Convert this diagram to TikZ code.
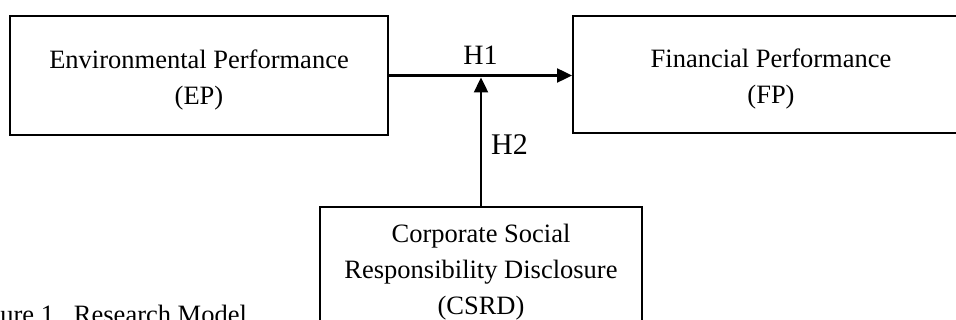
\documentclass[tikz,border=0pt]{standalone}
\usepackage{fontspec}
\setmainfont{Liberation Serif}
\usetikzlibrary{arrows.meta,positioning}

\begin{document}
\begin{tikzpicture}[x=0.5pt, y=-0.5pt,
  varbox/.style={draw, line width=1pt, align=center, inner sep=0pt,
    font=\fontsize{13.25}{18}\selectfont},
  hyplabel/.style={font=\fontsize{14}{16}\selectfont, inner sep=3pt},
  link/.style={-{Triangle[length=7.5pt, width=7pt]}, line width=1.2pt}]

\useasboundingbox (0,0) rectangle (956,320);
\clip (0,0) rectangle (956,320);

\node[varbox, minimum width=189pt, minimum height=59.5pt] (ep) at (199,75.5)
  {\rule{0pt}{14pt}Environmental Performance\\(EP)};
\node[varbox, minimum width=198pt, minimum height=58.5pt] (fp) at (771,74.5)
  {\rule{0pt}{14pt}Financial Performance\\(FP)};
\node[varbox, minimum width=161pt, minimum height=63pt] (csrd) at (481,270)
  {\rule{0pt}{11pt}Corporate Social\\Responsibility Disclosure\\(CSRD)};

\draw[link] (ep.east) -- (ep.east -| fp.west)
  node[hyplabel, midway, above=2pt] (h1) {H1};
\draw[link, shorten >=1pt] (csrd.north) -- (csrd.north |- ep.east)
  node[hyplabel, pos=0.47, right=1.5pt, font=\fontsize{15}{17}\selectfont] (h2) {H2};

% caption, cut at the left and bottom edges
\node[font=\fontsize{13.25}{16}\selectfont, anchor=base west, inner sep=0pt]
  (cap) at (0,323) {ure 1.\ \ Research Model};

\end{tikzpicture}
\end{document}
